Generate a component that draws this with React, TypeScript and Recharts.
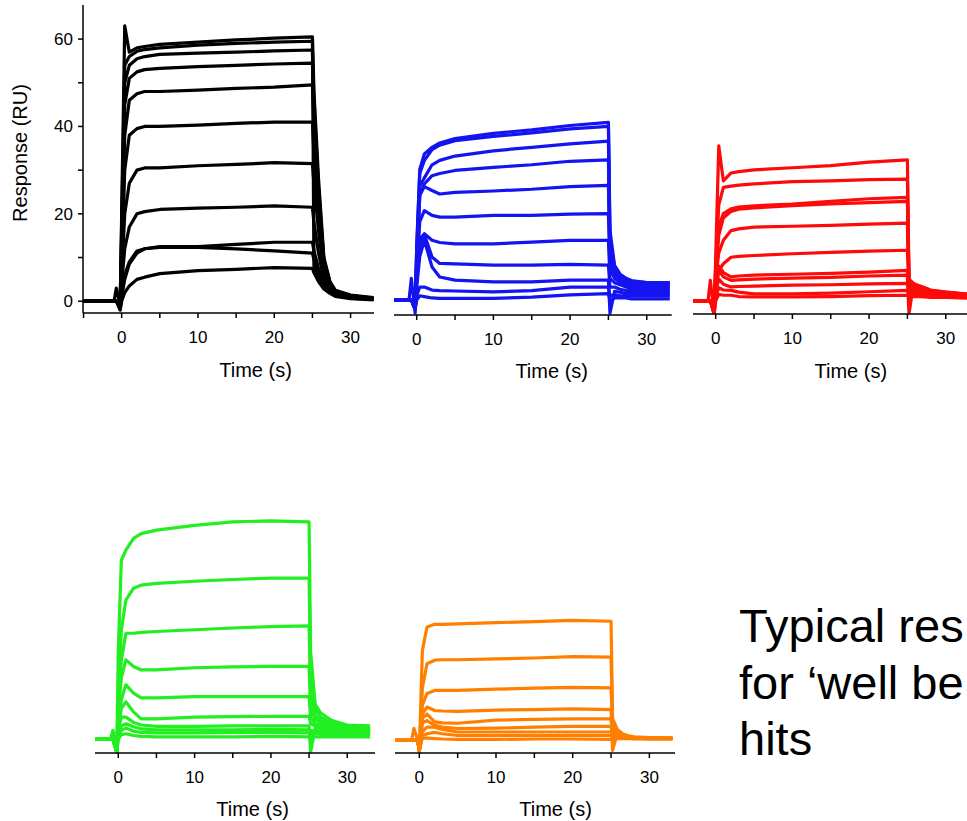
import React from 'react';
import { LineChart, Line, XAxis, YAxis } from 'recharts';

// ── Data (RU at each time point) ──────────────────────────────────────────────

const times = [-5, -1, -0.7, -0.2, 0, 0.4, 1, 2, 3, 5, 10, 15, 20, 25, 25.2, 25.8, 26.5, 27.3, 28, 30, 33];

const blackCurves = [
    [0, 0, 0, -1, 20, 63, 57, 58, 58.3, 58.8, 59.3, 59.8, 60.2, 60.5, 48, 28, 10, 4.5, 2.5, 1.4, 0.8],
    [0, 0, 0, -1, 18, 54, 56, 57.2, 57.6, 58, 58.6, 59, 59.3, 59.5, 8, 6, 4, 3, 2, 1, 0.5],
    [0, 0, 0, -1, 15, 50, 54, 55.5, 56, 56.5, 56.8, 57, 57.3, 57.5, 46, 26, 9.5, 4.3, 2.4, 1.3, 0.7],
    [0, 0, 0, -1, 12, 45, 51, 52.5, 53, 53.3, 53.7, 54, 54.3, 54.5, 44, 25, 9, 4, 2.3, 1.2, 0.7],
    [0, 0, 0, -1, 10, 38, 46, 47.5, 48, 48, 48.3, 48.7, 49, 49.5, 40, 23, 8.5, 4, 2.2, 1.2, 0.6],
    [0, 0, 0, -1, 8, 30, 38, 39.5, 40, 40, 40.3, 40.7, 41, 41, 34, 20, 7.5, 3.5, 2, 1.1, 0.6],
    [0, 0, 0, -1, 6, 20, 27, 30, 30.5, 30.5, 31, 31.3, 31.7, 31.5, 27, 16, 6.5, 3.2, 1.8, 1, 0.5],
    [0, 0, 0, -1, 4, 12, 17, 20, 20.5, 21, 21.3, 21.5, 21.8, 21.5, 18, 11, 5, 2.8, 1.6, 0.9, 0.5],
    [0, 0, 3, -1, 2, 6, 9, 11.5, 12, 12.5, 12.5, 13, 13.5, 13.5, 11.5, 7.5, 4, 2.3, 1.4, 0.8, 0.4],
    [0, 0, 0, -2, 1, 5, 8.5, 11, 12, 12.3, 12.3, 12, 11.5, 11, 9.5, 6, 3.5, 2.1, 1.3, 0.7, 0.4],
    [0, 0, 0, -2, 0, 2, 3.5, 5, 5.5, 6.3, 7, 7.3, 7.7, 7.5, 6.5, 4.5, 2.8, 1.8, 1.1, 0.6, 0.3],
];

const blueCurves = [
    [0, 0, 0, -2, 12, 30, 33.5, 35, 36, 37, 38.2, 39, 40, 40.7, 16, 8, 6, 5, 4.5, 4, 4],
    [0, 0, 0, -2, 12, 29, 32, 34.5, 35.5, 36.5, 37.5, 38.3, 39.2, 39.8, 14, 7.5, 5.5, 4.8, 4.3, 4, 4],
    [0, 0, 0, -2, 10, 26, 28, 31, 32, 33, 34.2, 35, 35.8, 36.4, 12, 7, 5, 4.5, 4, 3.7, 3.5],
    [0, 0, 0, -2, 9, 24, 26.6, 28.5, 29, 29.7, 30.4, 31, 31.8, 32.1, 10, 6.5, 4.8, 4.2, 3.8, 3.5, 3.3],
    [0, 0, 0, -2, 8, 24, 26, 25.1, 24.3, 24.7, 25, 25.4, 26, 26.3, 9, 6, 4.5, 4, 3.5, 3.2, 3],
    [0, 0, 0, -2, 6, 18, 20.5, 19.4, 19, 19, 19.4, 19.4, 19.7, 19.8, 7, 5, 4, 3.5, 3, 2.8, 2.8],
    [0, 0, 5, -3, 5, 14, 15.2, 13.7, 13.2, 12.9, 12.9, 13.3, 13.7, 13.7, 5, 4, 3.5, 3, 2.5, 2.3, 2.3],
    [0, 0, 0, -2, 4, 12, 15, 9.9, 8.4, 8.3, 8, 8, 8.2, 8, 3, 3, 2.5, 2.2, 2, 1.8, 1.8],
    [0, 0, 0, -2, 3, 10, 13.7, 7.6, 5.3, 4.6, 4.2, 4.2, 4.6, 4.6, -3, 2, 1.8, 1.5, 1.5, 1.3, 1.3],
    [0, 0, 0, -2, 1, 3, 3, 2.3, 2.2, 2.1, 1.9, 2.2, 3, 3, 1, 1.2, 1, 1, 1, 1, 1],
    [0, 0, 0, -2, 0, 1, 0.8, 0.5, 0.4, 0.4, 0.4, 0.7, 1.2, 1.5, 0, 0.5, 0.5, 0.5, 0.3, 0.3, 0.3],
];

const redCurves = [
    [0, 0, 0, -3, 10, 35.5, 27.5, 29.3, 29.6, 30, 30.5, 31, 31.8, 32.3, 5, 4, 3.5, 3, 2.5, 2, 1.5],
    [0, 0, 0, -2, 8, 22, 26, 26.3, 26.5, 26.8, 27.3, 27.5, 27.8, 27.9, 4.5, 3.8, 3.2, 2.8, 2.4, 2, 1.5],
    [0, 0, 0, -2, 7, 17, 20, 21.1, 21.5, 21.8, 22.2, 22.8, 23.4, 23.7, 4, 3.5, 3, 2.6, 2.2, 1.8, 1.5],
    [0, 0, 0, -2, 6, 15, 19, 20.5, 21, 21.3, 21.8, 22.2, 22.5, 22.8, 3.8, 3.3, 2.8, 2.5, 2.1, 1.8, 1.4],
    [0, 0, 0, -2, 5, 11, 13.9, 16.1, 16.5, 16.9, 17.1, 17.3, 17.6, 17.8, 3.5, 3, 2.6, 2.3, 2, 1.7, 1.3],
    [0, 0, 0, -2, 4, 7, 8.5, 10, 10.2, 10.4, 10.8, 11.1, 11.4, 11.6, 3, 2.7, 2.4, 2.1, 1.8, 1.5, 1.2],
    [0, 0, 4.7, -3, 3, 8, 6.5, 5.5, 5.7, 5.9, 6.1, 6.3, 6.6, 7, 2.5, 2.4, 2.2, 2, 1.7, 1.4, 1.1],
    [0, 0, 0, -2, 2, 7, 5.5, 4.7, 4.8, 5, 5.2, 5.4, 5.7, 5.9, -3, 4, 2.2, 1.9, 1.6, 1.3, 1],
    [0, 0, 0, -2, 2, 5, 3.8, 3.2, 3.3, 3.4, 3.6, 3.7, 3.9, 4, 2, 1.8, 1.6, 1.5, 1.3, 1.1, 0.9],
    [0, 0, 0, -3, 1, 3, 2.5, 2.4, 2, 1.6, 1.6, 1.8, 2.1, 2.4, 1.5, 1.4, 1.3, 1.2, 1.1, 1, 0.8],
    [0, 0, 0, -3, 0, 1.5, 1.3, 1.3, 1, 0.9, 0.9, 1, 1.2, 1.3, 1, 1, 1, 0.9, 0.8, 0.8, 0.6],
];

const greenCurves = [
    [0, 0, 0, -3, 20, 40.9, 43.2, 45.9, 47, 47.8, 48.9, 49.7, 49.9, 49.7, 20, 8, 6, 5, 4.2, 3.2, 3],
    [0, 0, 0, -3, 10, 25, 31.8, 34.5, 35.2, 35.6, 36.1, 36.5, 36.8, 36.8, 15, 7, 5, 4.2, 3.6, 3, 2.8],
    [0, 0, 0, -3, 8, 18, 24.2, 24.2, 24.4, 24.6, 25, 25.4, 25.7, 25.9, 10, 5.5, 4.2, 3.6, 3.2, 2.7, 2.5],
    [0, 0, 0, -3, 6, 14, 18.1, 16.6, 15.8, 15.8, 16.3, 16.5, 16.6, 16.6, 7, 4.5, 3.6, 3.2, 2.8, 2.4, 2.2],
    [0, 0, 0, -3, 4, 9, 12.4, 10.5, 9.4, 9.4, 9.7, 9.7, 9.7, 9.7, 5, 3.5, 3, 2.7, 2.4, 2.1, 2],
    [0, 0, 0, -3, 3, 7, 8.5, 6.2, 4.6, 4.6, 5, 5.1, 5.2, 5.2, 3.5, 3, 2.6, 2.4, 2.2, 1.9, 1.8],
    [0, 0, 2, -3, 2, 5, 5, 3.8, 3.2, 2.9, 2.9, 3, 3, 3, -3, 2.5, 2.2, 2, 1.8, 1.6, 1.5],
    [0, 0, 0, -3, 1, 3, 3.5, 2.8, 2.3, 2.1, 2.1, 2.1, 2.2, 2.1, 2, 1.8, 1.6, 1.5, 1.4, 1.2, 1.2],
    [0, 0, 0, -3, 0.5, 2, 2.5, 1.8, 1.5, 1.4, 1.4, 1.5, 1.5, 1.4, 1.3, 1.2, 1.1, 1, 1, 0.9, 0.9],
    [0, 0, 0, -3, 0, 1, 1.2, 0.8, 0.6, 0.5, 0.5, 0.5, 0.6, 0.5, 0.5, 0.5, 0.5, 0.5, 0.5, 0.5, 0.5],
];

const orangeCurves = [
    [0, 0, 0, 0, -2.5, 20.5, 25.9, 26.5, 26.5, 26.6, 26.9, 27.1, 27.4, 27.2, 5, 2.5, 1.5, 1, 0.8, 0.6, 0.5],
    [0, 0, 0, 0, -2.5, 12, 17.5, 18.3, 18.4, 18.4, 18.6, 18.8, 19.1, 19, 4, 2, 1.3, 0.9, 0.7, 0.5, 0.5],
    [0, 0, 0, 0, -2.5, 8, 10.7, 11.4, 11.4, 11.4, 11.7, 11.9, 12.1, 12, 3, 1.7, 1.2, 0.8, 0.6, 0.5, 0.5],
    [0, 0, 0, 0, -2.5, 6, 7.6, 6.8, 6.7, 6.6, 6.9, 7, 7.2, 7, -2.3, 1.5, 1, 0.7, 0.6, 0.5, 0.5],
    [0, 0, 0, 0, -2.5, 5, 6, 4.2, 4, 3.9, 4.6, 4.8, 4.9, 4.9, 2, 1.3, 0.9, 0.7, 0.5, 0.4, 0.4],
    [0, 0, 2.7, 0, -2.5, 4, 4.5, 3.4, 3, 2.7, 2.8, 3, 3.2, 3.2, 1.5, 1.1, 0.8, 0.6, 0.5, 0.4, 0.4],
    [0, 0, 0, 0, -2.5, 2, 3, 3, 2.5, 1.9, 1.9, 1.9, 1.9, 1.9, 1.2, 0.9, 0.7, 0.5, 0.4, 0.4, 0.4],
    [0, 0, 0, 0, -2.5, 1, 1.5, 1.8, 1.5, 1.1, 1.1, 1.1, 1.1, 1.1, 0.8, 0.7, 0.6, 0.5, 0.4, 0.4, 0.4],
    [0, 0, 0, 0, -2, 0.5, 0.5, 0.4, 0.3, 0.2, 0.2, 0.3, 0.3, 0.2, 0.3, 0.4, 0.4, 0.4, 0.4, 0.4, 0.4],
];

const xTicksFirst = [-5, 0, 5, 10, 15, 20, 25, 30];
const xTicks = [0, 5, 10, 15, 20, 25, 30];
const yTicks = [0, 10, 20, 30, 40, 50, 60];
const textLines = ['Typical res', 'for \u2018well be', 'hits'];

// ── Panel ─────────────────────────────────────────────────────────────────────

const FONT = '"Liberation Sans", Arial, sans-serif';

interface Plot { x0: number; x1: number; y0: number; y1: number }

interface PanelProps {
    curves: number[][];
    color: string;
    plot: Plot;
    xDomain: [number, number];
    yDomain: [number, number];
    ticks: number[];
    showY?: boolean;
}

function Panel({ curves, color, plot, xDomain, yDomain, ticks, showY = false }: PanelProps) {
    const rows = times.map((t, i) => {
        const r: Record<string, number> = { t };
        curves.forEach((c, j) => { r[`c${j}`] = c[i]; });
        return r;
    });
    const padL = 50, padT = 4, padR = 4, axisH = 40;
    const w = plot.x1 - plot.x0 + padL + padR;
    const h = plot.y1 - plot.y0 + padT + axisH;

    return (
        <div style={{ position: 'absolute', left: plot.x0 - padL, top: plot.y0 - padT }}>
            <LineChart
                width={w}
                height={h}
                data={rows}
                margin={{ top: padT, right: padR, bottom: 0, left: showY ? 0 : padL }}
            >
                <XAxis
                    type="number"
                    dataKey="t"
                    domain={xDomain}
                    allowDataOverflow
                    ticks={ticks}
                    interval={0}
                    tickFormatter={(v: number) => (v % 10 === 0 ? String(v) : '')}
                    height={axisH}
                    tickSize={5}
                    tickMargin={13}
                    axisLine={{ stroke: '#000', strokeWidth: 1.5 }}
                    tickLine={{ stroke: '#000', strokeWidth: 1.5 }}
                    tick={{ fill: '#000', fontSize: 17, fontFamily: FONT }}
                />
                <YAxis
                    type="number"
                    domain={yDomain}
                    allowDataOverflow
                    hide={!showY}
                    width={padL}
                    ticks={yTicks}
                    interval={0}
                    tickFormatter={(v: number) => (v % 20 === 0 ? String(v) : '')}
                    tickSize={5}
                    tickMargin={5}
                    axisLine={{ stroke: '#000', strokeWidth: 1.5 }}
                    tickLine={{ stroke: '#000', strokeWidth: 1.5 }}
                    tick={{ fill: '#000', fontSize: 17, fontFamily: FONT }}
                />
                {curves.map((_, j) => (
                    <Line
                        key={j}
                        dataKey={`c${j}`}
                        type="linear"
                        stroke={color}
                        strokeWidth={3.2}
                        strokeLinejoin="round"
                        dot={false}
                        activeDot={false}
                        isAnimationActive={false}
                    />
                ))}
            </LineChart>
        </div>
    );
}

function TimeLabel({ cx, top }: { cx: number; top: number }) {
    return (
        <div
            style={{
                position: 'absolute', left: cx, top, transform: 'translateX(-50%)',
                fontSize: 20, lineHeight: '20px', whiteSpace: 'nowrap', color: '#000',
            }}
        >
            Time (s)
        </div>
    );
}

// ── App ───────────────────────────────────────────────────────────────────────

export default function App() {
    return (
        <div
            style={{
                position: 'absolute', left: 0, top: 0, width: 967, height: 821,
                overflow: 'hidden', background: '#fff', fontFamily: FONT,
            }}
        >
            <Panel
                curves={blackCurves} color="#000000" showY
                plot={{ x0: 83, x1: 374, y0: 5, y1: 313 }}
                xDomain={[-5.07, 33.07]} yDomain={[-2.7, 67.8]} ticks={xTicksFirst}
            />
            <Panel
                curves={blueCurves} color="#1414f0"
                plot={{ x0: 394, x1: 671.7, y0: 108, y1: 315 }}
                xDomain={[-2.96, 33.25]} yDomain={[-3.4, 44]} ticks={xTicks}
            />
            <Panel
                curves={redCurves} color="#ff0a0a"
                plot={{ x0: 693, x1: 967, y0: 135, y1: 314 }}
                xDomain={[-2.96, 32.77]} yDomain={[-3, 38]} ticks={xTicks}
            />
            <Panel
                curves={greenCurves} color="#22ee22"
                plot={{ x0: 95, x1: 375, y0: 503, y1: 753 }}
                xDomain={[-3.05, 33.64]} yDomain={[-3.2, 54]} ticks={xTicks}
            />
            <Panel
                curves={orangeCurves} color="#ff8000"
                plot={{ x0: 395, x1: 675, y0: 609, y1: 753 }}
                xDomain={[-3.17, 33.34]} yDomain={[-2.9, 30]} ticks={xTicks}
            />

            <div
                style={{
                    position: 'absolute', left: 20, top: 153,
                    transform: 'translate(-50%, -50%) rotate(-90deg)',
                    fontSize: 20, lineHeight: '20px', whiteSpace: 'nowrap', color: '#000',
                }}
            >
                Response (RU)
            </div>

            <TimeLabel cx={255.5} top={359.5} />
            <TimeLabel cx={551.7} top={360.5} />
            <TimeLabel cx={850.8} top={360.5} />
            <TimeLabel cx={252.5} top={799} />
            <TimeLabel cx={555.5} top={799} />

            <div
                style={{
                    position: 'absolute', left: 739, top: 598,
                    fontSize: 47, lineHeight: '56.7px', whiteSpace: 'nowrap', color: '#000',
                }}
            >
                {textLines.map((s) => <div key={s}>{s}</div>)}
            </div>
        </div>
    );
}
